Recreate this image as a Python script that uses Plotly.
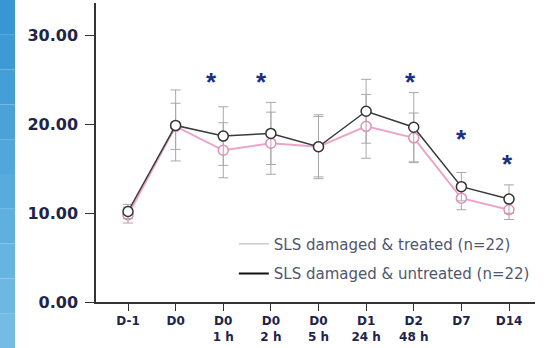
import plotly.graph_objects as go

categories = ["D-1", "D0", "D0<br>1 h", "D0<br>2 h", "D0<br>5 h", "D1<br>24 h", "D2<br>48 h", "D7", "D14"]
treated_mean = [9.8, 19.8, 17.1, 17.9, 17.5, 19.8, 18.5, 11.7, 10.4]
treated_sd = [0.9, 2.6, 3.1, 3.5, 3.4, 3.6, 2.8, 1.3, 1.1]
untreated_mean = [10.2, 19.9, 18.7, 19.0, 17.5, 21.5, 19.7, 13.0, 11.6]
untreated_sd = [0.8, 4.0, 3.3, 3.5, 3.6, 3.6, 3.9, 1.6, 1.6]
star_categories = ["D0<br>1 h", "D0<br>2 h", "D2<br>48 h", "D7", "D14"]
star_y = [24.8, 24.8, 24.8, 18.4, 15.6]
star_dx = [-12, -9, -3, 0, -2]

label_treated = "SLS damaged & treated (n=22)"
label_untreated = "SLS damaged & untreated (n=22)"

navy = "#1e2548"
fig = go.Figure()

fig.add_trace(go.Scatter(
    x=categories, y=treated_mean, mode="lines+markers", showlegend=False,
    error_y=dict(type="data", array=treated_sd, color="#a8a8a8", thickness=1, width=5),
    line=dict(color="#eaa6c8", width=2),
    marker=dict(size=10, color="white", line=dict(color="#e48db8", width=1.5)),
))
fig.add_trace(go.Scatter(
    x=categories, y=untreated_mean, mode="lines+markers", showlegend=False,
    error_y=dict(type="data", array=untreated_sd, color="#a8a8a8", thickness=1, width=5),
    line=dict(color="#3a3a3a", width=1.5),
    marker=dict(size=10, color="white", line=dict(color="#333333", width=1.5)),
))
fig.add_trace(go.Scatter(x=[None], y=[None], mode="lines", name=label_treated,
                         legendgroup="a", line=dict(color="#b0b0b0", width=1)))
fig.add_trace(go.Scatter(x=[None], y=[None], mode="lines", name=label_untreated,
                         legendgroup="b", line=dict(color="#111111", width=2)))

for c, yv, dx in zip(star_categories, star_y, star_dx):
    fig.add_annotation(x=c, y=yv, text="<b>*</b>", showarrow=False, xshift=dx,
                       font=dict(size=26, color="#1a2f85", family="Liberation Sans"),
                       yanchor="middle")

# blue side bar
blues = ["#3796d3", "#3d9ad5", "#449ed7", "#4aa2d9", "#51a7db", "#58abdd", "#5fb0df", "#66b4e1", "#6db8e3", "#74bce5"]
n = len(blues)
y0p, y1p = -46 / 299, 302 / 299
for i, col in enumerate(blues):
    fig.add_shape(type="rect", xref="paper", yref="paper",
                  x0=-96 / 439, x1=-81 / 439,
                  y0=y1p - (i + 1) * (y1p - y0p) / n, y1=y1p - i * (y1p - y0p) / n,
                  fillcolor=col, line=dict(width=0), layer="above")

fig.update_layout(
    width=559, height=348,
    margin=dict(l=96, r=24, t=3, b=46),
    paper_bgcolor="white", plot_bgcolor="white",
    font=dict(family="DejaVu Sans", color=navy),
    legend=dict(x=0.314, y=0.145, xanchor="left", yanchor="middle",
                bgcolor="rgba(0,0,0,0)", font=dict(size=15, color="#50566e", family="DejaVu Sans"),
                traceorder="grouped", tracegroupgap=7, itemwidth=30),
    xaxis=dict(type="category", range=[-0.672, 8.546], showgrid=False, zeroline=False,
               showline=True, linecolor="#333333", linewidth=1.5,
               ticks="outside", ticklen=7, tickcolor="#333333",
               tickfont=dict(size=12, color=navy, family="DejaVu Sans", weight="bold")),
    yaxis=dict(range=[0, 33.7], tickvals=[0, 10, 20, 30], tickformat=".2f",
               showgrid=False, zeroline=False,
               showline=True, linecolor="#333333", linewidth=1.5,
               ticks="outside", ticklen=9, tickcolor="#333333", ticklabelstandoff=4,
               tickfont=dict(size=16, color=navy, family="DejaVu Sans", weight="bold")),
)

fig.write_html("out.html", config={"displayModeBar": False},
               post_script="document.body.style.margin='0px';")
